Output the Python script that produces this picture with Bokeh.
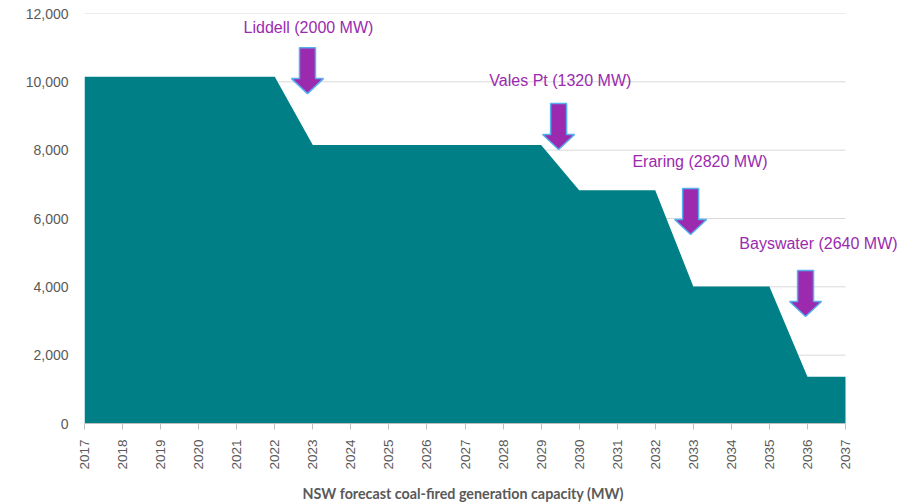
from math import pi
from bokeh.plotting import figure
from bokeh.models import NumeralTickFormatter, FixedTicker, Range1d, Label, Title
from bokeh.embed import file_html
from bokeh.resources import INLINE

# ---- data ----
years = [2017, 2018, 2019, 2020, 2021, 2022, 2023, 2024, 2025, 2026, 2027,
         2028, 2029, 2030, 2031, 2032, 2033, 2034, 2035, 2036, 2037]
capacity_mw = [10150, 10150, 10150, 10150, 10150, 10150, 8150, 8150, 8150, 8150, 8150,
               8150, 8150, 6830, 6830, 6830, 4010, 4010, 4010, 1370, 1370]

stations = ["Liddell", "Vales Pt", "Eraring", "Bayswater"]
station_mw = [2000, 1320, 2820, 2640]

# annotation anchors (data coordinates)
arrow_x = [2022.86, 2029.46, 2032.93, 2035.95]
arrow_top = [11000, 9365, 6877, 4478]
label_x = [2021.18, 2027.64, 2031.40, 2034.21]
label_y = [11589, 10038, 7668, 5268]

y_ticks = [0, 2000, 4000, 6000, 8000, 10000, 12000]

TEAL = "#007F86"
PURPLE = "#9B2AAF"
ARROW_EDGE = "#55AEEE"
GREY_TXT = "#595959"

X0, X1 = years[0], years[-1]
PX_PER_YEAR = 38.05
FRAME_W = 828  # frame extends to the right edge so the last label is not clipped
x_end = X0 + FRAME_W / PX_PER_YEAR

p = figure(frame_width=FRAME_W, frame_height=410, output_backend="svg",
           toolbar_location=None, x_range=Range1d(X0, x_end), y_range=Range1d(0, 12000),
           min_border_left=84, min_border_right=0, min_border_top=13, min_border_bottom=80)
p.outline_line_color = None
p.background_fill_color = "white"
p.border_fill_color = "white"

# horizontal grid lines, limited to the data span
p.segment(x0=[X0] * len(y_ticks), x1=[X1] * len(y_ticks), y0=y_ticks, y1=y_ticks,
          line_color="#D9D9D9", line_width=1, level="underlay")

# area
p.varea(x=years, y1=[0] * len(years), y2=capacity_mw, fill_color=TEAL)

# arrows
ARROW_LEN = 1346
HEAD_LEN = 440
SHAFT_HALF = 0.21
HEAD_HALF = 0.42
xs, ys = [], []
for ax, at in zip(arrow_x, arrow_top):
    tip = at - ARROW_LEN
    hb = tip + HEAD_LEN
    xs.append([ax - SHAFT_HALF, ax + SHAFT_HALF, ax + SHAFT_HALF, ax + HEAD_HALF, ax,
               ax - HEAD_HALF, ax - SHAFT_HALF])
    ys.append([at, at, hb, hb, tip, hb, hb])
p.patches(xs=xs, ys=ys, fill_color=PURPLE, line_color=ARROW_EDGE, line_width=1.5)

for n, m, lx, ly in zip(stations, station_mw, label_x, label_y):
    p.add_layout(Label(x=lx, y=ly, text=f"{n} ({m} MW)", text_font="Liberation Sans",
                       text_font_size="16px", text_color=PURPLE, text_align="left",
                       text_baseline="alphabetic"))

# axes
p.xaxis.bounds = (X0, X1)
p.xaxis.ticker = FixedTicker(ticks=years)
p.xaxis.major_label_orientation = pi / 2
p.xaxis.major_label_text_font = "Liberation Sans"
p.xaxis.major_label_text_font_size = "13.5px"
p.xaxis.major_label_text_color = GREY_TXT
p.xaxis.axis_line_color = "#BFBFBF"
p.xaxis.major_tick_line_color = "#BFBFBF"
p.xaxis.major_tick_out = 6
p.xaxis.major_tick_in = 0
p.xaxis.minor_tick_line_color = None
p.xaxis.major_label_standoff = 10

p.yaxis.ticker = FixedTicker(ticks=y_ticks)
p.yaxis.formatter = NumeralTickFormatter(format="0,0")
p.yaxis.major_label_text_font = "Liberation Sans"
p.yaxis.major_label_text_font_size = "14px"
p.yaxis.major_label_text_color = GREY_TXT
p.yaxis.axis_line_color = None
p.yaxis.major_tick_line_color = None
p.yaxis.minor_tick_line_color = None
p.yaxis.major_tick_out = 0
p.yaxis.major_tick_in = 0
p.yaxis.major_label_standoff = 16

p.xgrid.grid_line_color = None
p.ygrid.grid_line_color = None

p.add_layout(Title(text="NSW forecast coal-fired generation capacity (MW)", align="left",
                   offset=218, standoff=21, text_font="Lato", text_font_style="bold",
                   text_font_size="14.3px", text_color=GREY_TXT), "below")

open("out.html", "w").write(file_html(p, INLINE))
